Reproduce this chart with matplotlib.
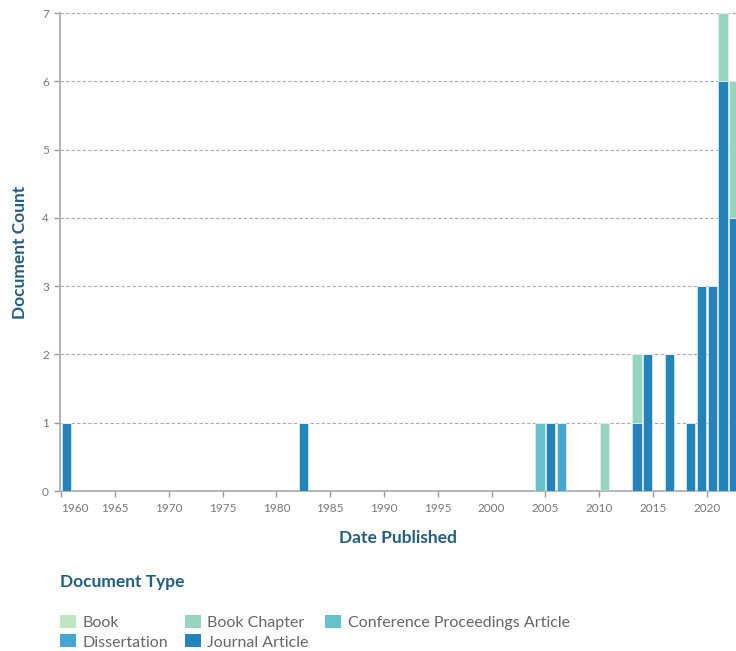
import matplotlib
matplotlib.use("Agg")
import matplotlib.pyplot as plt
from matplotlib.patches import Patch

plt.rcParams['font.family'] = ['Lato', 'DejaVu Sans']

years = [1960, 1982, 2004, 2005, 2006, 2010, 2013, 2014, 2016, 2018, 2019, 2020, 2021, 2022]
journal_article = [1, 1, 0, 1, 0, 0, 1, 2, 2, 1, 3, 3, 6, 4]
dissertation = [0, 0, 0, 0, 1, 0, 0, 0, 0, 0, 0, 0, 0, 0]
conference = [0, 0, 1, 0, 0, 0, 0, 0, 0, 0, 0, 0, 0, 0]
book_chapter = [0, 0, 0, 0, 0, 1, 1, 0, 0, 0, 0, 0, 1, 2]
book = [0, 0, 0, 0, 0, 0, 0, 0, 0, 0, 0, 0, 0, 0]

series = [
    ("Journal Article", journal_article, "#2383ba"),
    ("Dissertation", dissertation, "#47a6d1"),
    ("Conference Proceedings Article", conference, "#67c1ca"),
    ("Book Chapter", book_chapter, "#97d6bd"),
    ("Book", book, "#c0e6c1"),
]
colors = {name: c for name, _, c in series}

xticks = list(range(1960, 2021, 5))
yticks = list(range(0, 8))

fig = plt.figure(figsize=(7.36, 6.51), dpi=100)
ax = fig.add_axes([60 / 736, 1 - 491 / 651, 1 - 60 / 736, (491 - 13) / 651])

bottom = [0] * len(years)
for name, vals, c in series:
    ax.bar([y + 0.07 for y in years], vals, width=0.86, bottom=bottom, align='edge',
           color=c, edgecolor='#e3edf2', linewidth=0.5, zorder=3)
    bottom = [b + v for b, v in zip(bottom, vals)]

ax.set_xlim(1959.9, 2022.7)
ax.set_ylim(0, 7)
ax.set_xticks(xticks)
ax.set_yticks(yticks)
ax.tick_params(axis='both', colors='#999999', labelcolor='#777777', labelsize=8.5,
               length=4, width=1)
ax.tick_params(axis='x', pad=5)
ax.tick_params(axis='y', pad=4)
xl = ax.get_xticklabels()
xl[0].set_horizontalalignment('left')
ax.yaxis.grid(True, linestyle=(0, (3, 2)), color='#aaaaaa', linewidth=0.8, zorder=0)
for s in ['top', 'right']:
    ax.spines[s].set_visible(False)
for s in ['left', 'bottom']:
    ax.spines[s].set_color('#b0b0b0')
    ax.spines[s].set_linewidth(1.3)

label_color = '#245f80'
ax.set_xlabel("Date Published", fontsize=12.5, fontweight='bold', color=label_color, labelpad=11)
ax.set_ylabel("Document Count", fontsize=12.5, fontweight='bold', color=label_color, labelpad=10)

fig.text(60 / 736, 1 - 582 / 651, "Document Type", fontsize=12.5, fontweight='bold',
         color=label_color, va='center', ha='left')

order = ["Book", "Dissertation", "Book Chapter", "Journal Article", "Conference Proceedings Article"]
handles = [Patch(facecolor=colors[n], edgecolor='none', label=n) for n in order]
leg = fig.legend(handles=handles, ncol=3, loc='upper left',
                 bbox_to_anchor=(60 / 736, 1 - 615 / 651), frameon=False,
                 fontsize=11.5, handlelength=1.0, handleheight=0.875, handletextpad=0.4,
                 columnspacing=1.05, labelspacing=0.28, borderpad=0, borderaxespad=0)
for t in leg.get_texts():
    t.set_color('#666666')

fig.savefig("out.png", dpi=100)
